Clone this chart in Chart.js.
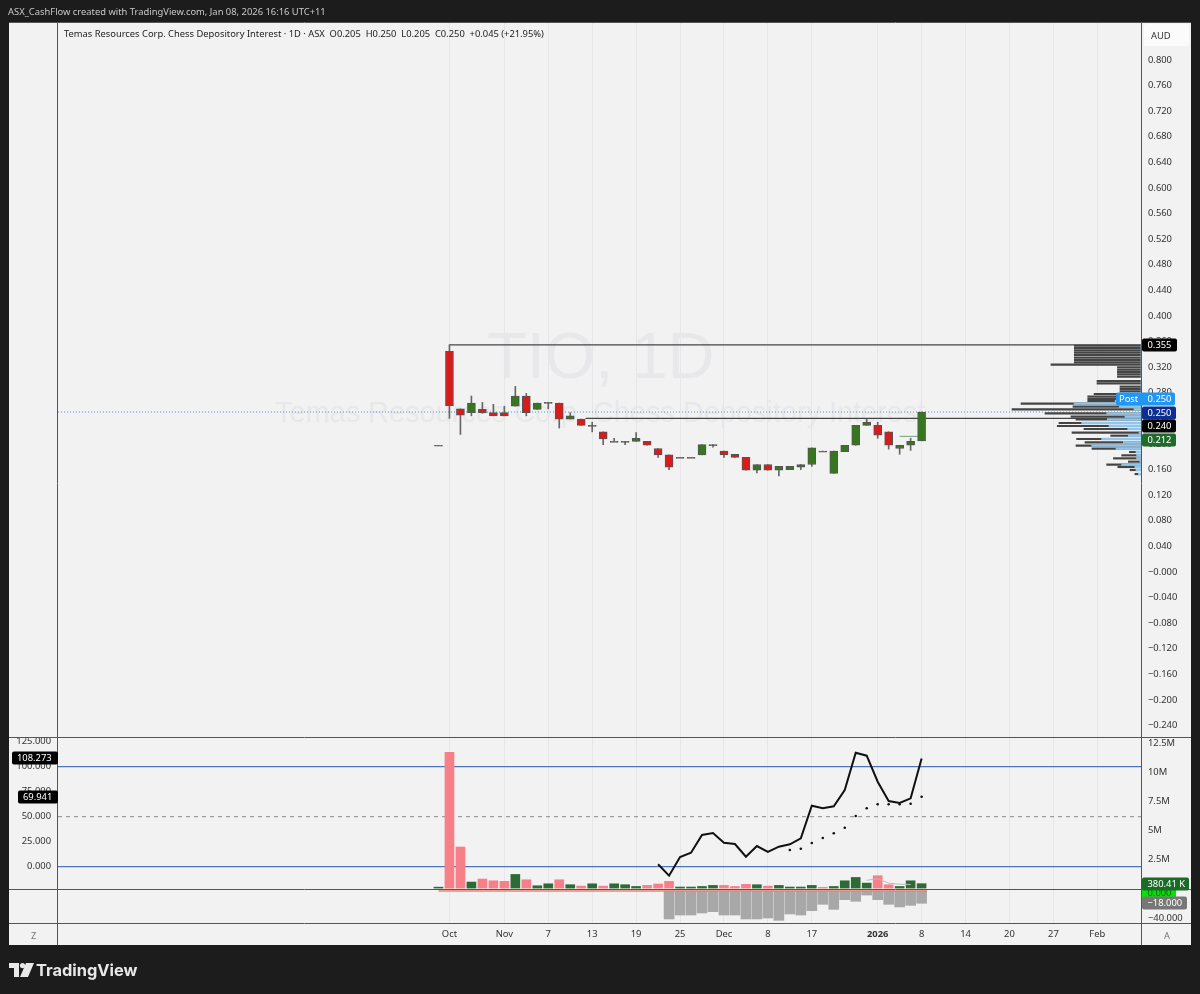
<!DOCTYPE html>
<html>
<head>
<meta charset="utf-8">
<title>TIO, 1D</title>
<script src="https://cdn.jsdelivr.net/npm/chart.js@4"></script>
<style>
html, body { margin: 0; padding: 0; background: #1c1c1c; width: 1200px; height: 994px; overflow: hidden; font-family: "Noto Sans", Arial, sans-serif; }
#panel { position: absolute; left: 9px; top: 22px; width: 1182px; height: 923px; background: #f2f2f3; }
#audBox { position: absolute; left: 1144px; top: 24px; width: 45px; height: 22px; background: #fbfbfb; border-radius: 2px; }
#myChart { position: absolute; left: 0; top: 0; }
.abs { position: absolute; white-space: nowrap; }
#credit { left: 8px; top: 5px; color: #c8c8c8; font-size: 9.4px; }
#legend { left: 64px; top: 27px; color: #222; font-size: 9.35px; }
#markName { left: 487px; top: 318px; color: #e8e8eb; font-size: 65px; font-family: "Liberation Sans", sans-serif; }
#markDesc { left: 275px; top: 396px; color: #e8e8eb; font-size: 28.9px; font-family: "Liberation Sans", sans-serif; }
#aud { left: 1151px; top: 29px; color: #333; font-size: 9.4px; }
#zBtn { left: 31px; top: 929px; color: #777; font-size: 9.2px; }
#aBtn { left: 1164px; top: 929px; color: #777; font-size: 9.2px; }
#brand { left: 36px; top: 960px; color: #e8e8e8; font-size: 16.4px; font-weight: bold; font-family: Inter, sans-serif; }
#logo { left: 9px; top: 963px; }
</style>
</head>
<body>
<div id="panel"></div>
<div id="audBox"></div>
<div id="markName" class="abs">TIO, 1D</div>
<div id="markDesc" class="abs">Temas Resources Corp. Chess Depository Interest</div>
<canvas id="myChart" width="1200" height="994"></canvas>
<div id="credit" class="abs">ASX_CashFlow created with TradingView.com, Jan 08, 2026 16:16 UTC+11</div>
<div id="legend" class="abs">Temas Resources Corp. Chess Depository Interest · 1D · ASX &nbsp;O0.205 &nbsp;H0.250 &nbsp;L0.205 &nbsp;C0.250 &nbsp;+0.045 (+21.95%)</div>
<div id="aud" class="abs">AUD</div>
<div id="zBtn" class="abs">Z</div>
<div id="aBtn" class="abs">A</div>
<svg id="logo" class="abs" width="25" height="14" viewBox="0 0 25 14">
	<path d="M0 0H10V14H5V5H0Z M17 0H25L19 14H11Z" fill="#e8e8e8"/>
	<circle cx="13.5" cy="2.6" r="2.6" fill="#e8e8e8"/>
</svg>
<div id="brand" class="abs">TradingView</div>

<script>
// candles, index 0 is the lone print before Oct
const opens = [0.198,0.345,0.255,0.249,0.254,0.249,0.249,0.259,0.275,0.254,0.265,0.264,0.239,0.239,0.229,0.219,0.204,0.204,0.204,0.204,0.193,0.183,0.179,0.179,0.183,0.199,0.189,0.184,0.179,0.159,0.168,0.159,0.160,0.164,0.168,0.189,0.154,0.188,0.198,0.229,0.229,0.219,0.193,0.198,0.205];
const closes = [0.198,0.260,0.245,0.264,0.249,0.244,0.244,0.275,0.249,0.264,0.265,0.239,0.244,0.229,0.229,0.208,0.204,0.204,0.209,0.198,0.183,0.164,0.179,0.179,0.199,0.199,0.183,0.179,0.159,0.168,0.159,0.165,0.165,0.168,0.194,0.189,0.189,0.198,0.229,0.234,0.214,0.198,0.198,0.204,0.250];
const highs = [0.198,0.355,0.255,0.275,0.265,0.262,0.259,0.290,0.279,0.264,0.265,0.264,0.249,0.239,0.234,0.219,0.209,0.204,0.218,0.204,0.193,0.183,0.179,0.179,0.199,0.199,0.189,0.184,0.179,0.168,0.168,0.165,0.165,0.168,0.194,0.189,0.189,0.198,0.229,0.239,0.234,0.219,0.198,0.209,0.250];
const lows = [0.198,0.240,0.215,0.244,0.248,0.244,0.244,0.259,0.244,0.254,0.255,0.225,0.239,0.229,0.219,0.199,0.204,0.199,0.204,0.198,0.179,0.160,0.179,0.179,0.183,0.195,0.179,0.179,0.159,0.155,0.159,0.150,0.160,0.160,0.165,0.189,0.154,0.188,0.198,0.229,0.209,0.192,0.184,0.190,0.205];

// volume in millions
const volumes = [0.08,11.74,3.55,0.52,0.78,0.63,0.58,1.18,0.72,0.20,0.37,0.72,0.29,0.17,0.37,0.17,0.37,0.29,0.14,0.23,0.35,0.58,0.09,0.09,0.14,0.23,0.23,0.14,0.32,0.29,0.17,0.23,0.09,0.09,0.23,0.06,0.14,0.63,0.92,0.43,1.07,0.29,0.14,0.63,0.38];
const volumeUp = [1,0,0,1,0,0,0,1,0,1,1,0,1,0,1,0,1,1,1,0,0,0,1,1,1,1,0,0,0,1,0,1,1,1,1,0,1,1,1,1,0,0,1,1,1];

// oscillator line starts at candle 20, dots at candle 32
const oscStart = 20;
const oscValues = [2.4,-9,9.7,14,31.7,33.7,24,22.7,10,20.7,14.7,20,22.4,28.4,61,58.4,60.4,76.7,114,111,85,65.7,63.7,68.4,108.3];
const dotStart = 32;
const dotValues = [16.7,18,23.7,28.7,33.4,39,50.7,58.4,62.4,62.4,62.4,63,69.9];
const fadedStart = 39;
const fadedValues = [-13.6,-12,-16.5,-17.5,-17.8];

// lower pane, starts at candle 21
const lowerStart = 21;
const lowerValues = [-41,-35.2,-35.2,-32.2,-30.3,-35.2,-35.2,-41,-41,-39.6,-43,-33.7,-35.2,-28.8,-19.5,-26.9,-12.7,-15.1,-5.9,-12.7,-19.5,-23.4,-21,-18];

// volume profile, row price and share of the longest row
const profilePrices = [0.3536,0.3500,0.3464,0.3427,0.3391,0.3349,0.3313,0.3276,0.3240,0.3198,0.3161,0.3125,0.3089,0.3052,0.2984,0.2948,0.2896,0.2859,0.2823,0.2781,0.2740,0.2703,0.2672,0.2630,0.2583,0.2542,0.2479,0.2427,0.2385,0.2328,0.2281,0.2234,0.2177,0.2130,0.2078,0.2026,0.1974,0.1927,0.1875,0.1823,0.1776,0.1724,0.1677,0.1641,0.1594,0.1531];
const profileTotal = [51.7,51.7,51.7,51.7,51.7,51.7,51.7,51.7,69.8,18.3,18.3,18.3,18.3,18.3,34.1,34.1,16.3,16.3,16.3,36.4,41.3,41.3,41.3,93,52.7,100,74.4,54.3,50.4,63.6,64.9,44.2,53.5,23.5,49.9,43.4,50.4,38,9,15,21.4,9.8,26.6,18,8.5,4.7];
const profileUp = [0,0,0,0,0,0,0,0,0,0,0,0,0,0,0,0,0,0,0,0,0,0,20,51.9,16.8,5.4,26.6,12.4,26.1,46,24.8,10.3,1.5,9.8,30.5,13.7,38.2,19.4,3.9,3.4,3.4,0.8,15,4.7,3.9,2];

// axis labels
const priceTickLabels = ['0.800','0.760','0.720','0.680','0.640','0.600','0.560','0.520','0.480','0.440','0.400','0.360','0.320','0.280','0.240','0.200','0.160','0.120','0.080','0.040','−0.000','−0.040','−0.080','−0.120','−0.160','−0.200','−0.240'];
const volumeTickLabels = ['12.5M','10M','7.5M','5M','2.5M'];
const oscTickLabels = ['125.000','100.000','75.000','50.000','25.000','0.000'];
const lowerTickLabels = ['0.000','−18.000','−40.000'];
const timeTickIndexes = [1,6,10,14,18,22,26,30,34,40,44,48,52,56,60];
const timeTickLabels = ['Oct','Nov','7','13','19','25','Dec','8','17','2026','8','14','20','27','Feb'];

// levels
const highLevel = 0.355;
const highLevelStart = 1;
const supportLevel = 0.240;
const supportLevelStart = 13.4;
const lastPrice = 0.250;
const avgLevel = 0.212;
const avgLevelStart = 42;
const oscBands = [100, 0];
const oscMid = 50;

const xMin = -34.65;
const xMax = 63.98;
const axisFont = { family: '"Noto Sans", Arial, sans-serif', size: 9.4 };
const tickColor = '#333';

function tickNumber(label) {
	return Number(label.replace('−', '-').replace('M', ''));
}

function pairs(start, values) {
	return values.map((v, i) => ({ x: start + i, y: v }));
}

function level(y, from) {
	return [{ x: from, y: y }, { x: xMax, y: y }];
}

function candleColor(i, up, down, flat) {
	if (closes[i] > opens[i]) return up;
	if (closes[i] < opens[i]) return down;
	return flat;
}

// fixed size panes, ticks come from the label lists
function paneAxis(position, stackName, weight, order, min, max, labels) {
	return {
		type: 'linear',
		position: position,
		stack: stackName,
		stackWeight: weight,
		weight: order,
		min: min,
		max: max,
		offset: false,
		grid: { display: false, drawTicks: false },
		border: { display: false },
		afterFit: (scale) => { scale.width = position === 'left' ? 49 : 50; },
		afterBuildTicks: (scale) => { scale.ticks = labels.map((l) => ({ value: tickNumber(l), label: l })); },
		ticks: {
			display: labels.length > 0,
			autoSkip: false,
			color: tickColor,
			font: axisFont,
			padding: 7,
			callback: (value) => labels.find((l) => tickNumber(l) === value)
		}
	};
}

// price tags sitting on the axes
const axisTags = [
	{ scale: 'price', value: highLevel, text: '0.355', bg: '#000', fg: '#fff', side: 'right', w: 35, nudge: 0 },
	{ scale: 'price', value: lastPrice, text: '0.250', bg: '#2196f3', fg: '#fff', side: 'right', w: 34, nudge: -13, prefix: 'Post' },
	{ scale: 'price', value: lastPrice, text: '0.250', bg: '#0d2f91', fg: '#fff', side: 'right', w: 34, nudge: 1 },
	{ scale: 'price', value: supportLevel, text: '0.240', bg: '#000', fg: '#fff', side: 'right', w: 34, nudge: 8 },
	{ scale: 'price', value: avgLevel, text: '0.212', bg: '#1e6b2a', fg: '#fff', side: 'right', w: 34, nudge: 4 },
	{ scale: 'lower', value: 0, text: '0.000', bg: '#00e600', fg: '#1a5a1a', side: 'right', w: 35, nudge: 2 },
	{ scale: 'volume', value: 0.38, text: '380.41 K', bg: '#1b6b28', fg: '#fff', side: 'right', w: 47, nudge: 0 },
	{ scale: 'lower', value: -18, text: '−18.000', bg: '#777', fg: '#fff', side: 'right', w: 45, nudge: 0 },
	{ scale: 'osc', value: 108.273, text: '108.273', bg: '#000', fg: '#fff', side: 'left', w: 46, nudge: 0 },
	{ scale: 'osc', value: 69.941, text: '69.941', bg: '#000', fg: '#fff', side: 'left', w: 40, nudge: 0 }
];

const panesAndTags = {
	id: 'panesAndTags',
	afterDatasetsDraw(chart) {
		const c = chart.ctx;
		const area = chart.chartArea;
		const s = chart.scales;
		c.save();
		c.strokeStyle = '#555';
		c.lineWidth = 1;
		c.beginPath();
		[area.top, s.price.bottom, s.volume.bottom, area.bottom].forEach((y) => {
			c.moveTo(9, Math.round(y) + 0.5);
			c.lineTo(1191, Math.round(y) + 0.5);
		});
		c.moveTo(Math.round(area.left) - 0.5, area.top);
		c.lineTo(Math.round(area.left) - 0.5, 945);
		c.moveTo(Math.round(area.right) + 0.5, area.top);
		c.lineTo(Math.round(area.right) + 0.5, 945);
		c.stroke();

		c.font = '9.4px "Noto Sans", Arial, sans-serif';
		c.textBaseline = 'middle';
		axisTags.forEach((t) => {
			const y = Math.round(s[t.scale].getPixelForValue(t.value)) + t.nudge;
			const x = t.side === 'right' ? area.right : area.left - t.w;
			const clipTop = t.scale === 'lower' && t.value === 0;
			c.fillStyle = t.bg;
			c.beginPath();
			if (t.prefix) {
				c.roundRect(x - 25, y - 6.5, t.w + 25, 13, 2);
			} else if (clipTop) {
				c.rect(x + 1, s.lower.top + 1, t.w - 1, 9);
			} else {
				c.roundRect(x + (t.side === 'right' ? 1 : 0), y - 6.5, t.w, 13, 2);
			}
			c.fill();
			c.fillStyle = t.fg;
			c.textAlign = 'left';
			if (t.prefix) {
				c.fillText(t.prefix, x - 22, y + 0.5);
			}
			c.fillText(t.text, x + (t.side === 'right' ? 6.5 : 5), y + 0.5);
		});
		c.restore();
	}
};

const bodies = opens.map((o, i) => ({ x: i, y: [o, closes[i]] }));
const wicks = highs.map((h, i) => ({ x: i, y: [lows[i], h] }));

new Chart(document.getElementById('myChart'), {
	type: 'bar',
	plugins: [panesAndTags],
	data: {
		datasets: [
			// candles
			{ label: 'Body', data: bodies, yAxisID: 'price', grouped: false, barThickness: 8, minBarLength: 1, order: 3, borderWidth: 1, borderSkipped: false, borderColor: '#555', backgroundColor: opens.map((o, i) => candleColor(i, '#37761f', '#d81c1c', '#555')) },
			{ label: 'Wick', data: wicks, yAxisID: 'price', grouped: false, barThickness: 1, order: 4, backgroundColor: '#666' },
			// levels
			{ type: 'line', label: 'High', data: level(highLevel, highLevelStart), yAxisID: 'price', order: 5, borderColor: '#444', borderWidth: 1.2, pointRadius: 0 },
			{ type: 'line', label: 'Support', data: level(supportLevel, supportLevelStart), yAxisID: 'price', order: 5, borderColor: '#444', borderWidth: 1.2, pointRadius: 0 },
			{ type: 'line', label: 'Last', data: level(lastPrice, xMin), yAxisID: 'price', order: 6, borderColor: '#5b8dd0', borderWidth: 1, borderDash: [1, 2], pointRadius: 0 },
			{ type: 'line', label: 'Avg', data: [{ x: avgLevelStart, y: avgLevel }, { x: 44, y: avgLevel }], yAxisID: 'price', order: 5, borderColor: '#6f9f74', borderWidth: 1, pointRadius: 0 },
			// profile, blue part sits over the total row
			{ label: 'Profile up', indexAxis: 'y', data: profilePrices.map((p, i) => ({ x: profileUp[i], y: p })), xAxisID: 'profile', yAxisID: 'price', grouped: false, barThickness: 1.7, order: 1, backgroundColor: '#8fc6ee' },
			{ label: 'Profile', indexAxis: 'y', data: profilePrices.map((p, i) => ({ x: profileTotal[i], y: p })), xAxisID: 'profile', yAxisID: 'price', grouped: false, barThickness: 1.5, order: 2, backgroundColor: '#444' },
			// volume pane
			{ label: 'Volume', data: pairs(0, volumes), yAxisID: 'volume', grouped: false, barThickness: 9, order: 12, backgroundColor: volumeUp.map((u) => u ? '#2e6b34' : '#f77f88') },
			{ type: 'line', label: 'Band', data: level(oscBands[0], xMin), yAxisID: 'osc', order: 14, borderColor: '#4a76b8', borderWidth: 1.2, pointRadius: 0 },
			{ type: 'line', label: 'Band', data: level(oscBands[1], xMin), yAxisID: 'osc', order: 14, borderColor: '#4a76b8', borderWidth: 1.2, pointRadius: 0 },
			{ type: 'line', label: 'Mid', data: level(oscMid, xMin), yAxisID: 'osc', order: 14, borderColor: '#888', borderWidth: 1, borderDash: [4, 4], pointRadius: 0 },
			{ type: 'line', label: 'Osc', data: pairs(oscStart, oscValues), yAxisID: 'osc', order: 10, borderColor: '#111', borderWidth: 2, pointRadius: 0 },
			{ type: 'line', label: 'Signal', data: pairs(dotStart, dotValues), yAxisID: 'osc', order: 10, showLine: false, pointRadius: 1.3, pointBorderWidth: 0, pointBackgroundColor: '#111' },
			{ type: 'line', label: 'Faded', data: pairs(fadedStart, fadedValues), yAxisID: 'osc', order: 11, borderColor: '#bbb', borderWidth: 1, pointRadius: 0 },
			// lower pane
			{ label: 'Lower', data: pairs(lowerStart, lowerValues), yAxisID: 'lower', grouped: false, barThickness: 10, order: 21, backgroundColor: '#a8a8a8' },
			{ type: 'line', label: 'Zero', data: [{ x: 0, y: 0 }, { x: 44.5, y: 0 }], yAxisID: 'lower', order: 20, borderColor: '#f08070', borderWidth: 1.5, pointRadius: 0 }
		]
	},
	options: {
		responsive: false,
		animation: false,
		layout: { padding: { left: 9, right: 9, top: 22, bottom: 49 } },
		plugins: { legend: { display: false }, tooltip: { enabled: false } },
		scales: {
			x: {
				type: 'linear',
				min: xMin,
				max: xMax,
				offset: false,
				border: { display: false },
				grid: { color: '#e6e6e9', drawTicks: false, offset: false },
				afterFit: (scale) => { scale.height = 22; },
				afterBuildTicks: (scale) => { scale.ticks = timeTickIndexes.map((v) => ({ value: v })); },
				ticks: {
					autoSkip: false,
					maxRotation: 0,
					color: tickColor,
					padding: 6,
					font: (ctx) => ({ family: axisFont.family, size: axisFont.size, weight: ctx.tick && ctx.tick.value === 40 ? 'bold' : 'normal' }),
					callback: (value) => timeTickLabels[timeTickIndexes.indexOf(value)]
				}
			},
			profile: { type: 'linear', display: false, reverse: true, offset: false, min: 0, max: 839.5 },
			price: paneAxis('right', 'right', 715, 1, -0.2578, 0.8594, priceTickLabels),
			volume: paneAxis('right', 'right', 152, 2, -0.08, 13.06, volumeTickLabels),
			lower: paneAxis('right', 'right', 34, 3, -46.9, 2.93, lowerTickLabels),
			blankTop: paneAxis('left', 'left', 715, 3, 0, 1, []),
			osc: paneAxis('left', 'left', 152, 2, -22.3, 129.7, oscTickLabels),
			blankLow: paneAxis('left', 'left', 34, 1, 0, 1, [])
		}
	}
});
</script>
</body>
</html>
